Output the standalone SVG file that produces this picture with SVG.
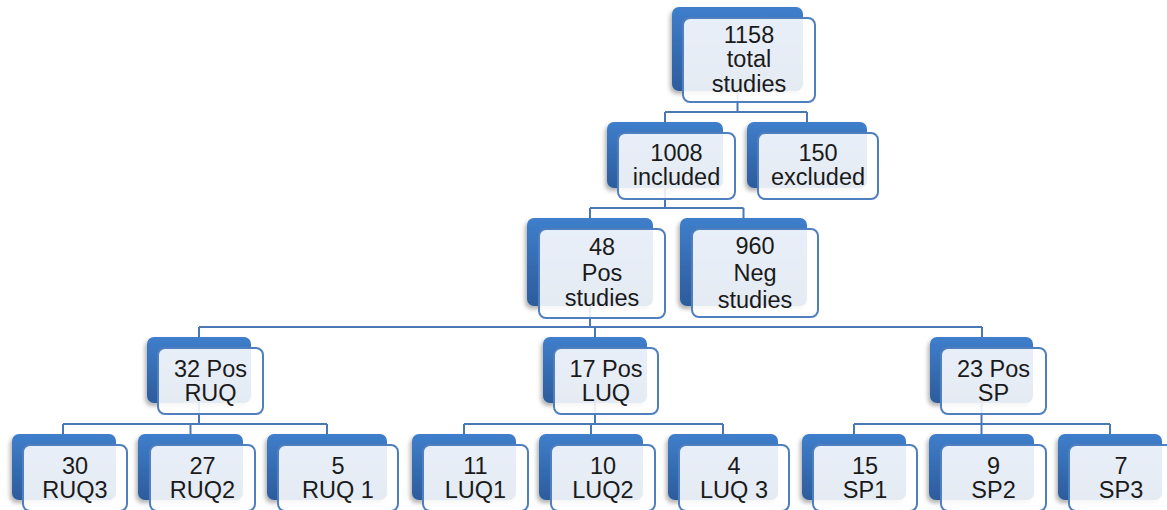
<svg xmlns="http://www.w3.org/2000/svg" width="1167" height="510" viewBox="0 0 1167 510">
<defs>
<linearGradient id="blueGrad" x1="0" y1="0" x2="0" y2="1">
<stop offset="0" stop-color="#3f7ecb"/>
<stop offset="1" stop-color="#2d5c9c"/>
</linearGradient>
<filter id="shadow" x="-20%" y="-20%" width="140%" height="150%">
<feDropShadow dx="-2" dy="3" stdDeviation="2" flood-color="#000" flood-opacity="0.3"/>
</filter>
<style>
.back{fill:url(#blueGrad);filter:url(#shadow);}
.front{fill:#ffffff;fill-opacity:0.88;stroke:#4f7fbe;stroke-width:2;}
.conn{fill:none;stroke:#4a78b6;stroke-width:2;}
text{font-family:"Liberation Sans",Arial,sans-serif;font-size:23.5px;fill:#1a1a1a;text-anchor:middle;}
</style>
</defs>
<rect width="1167" height="510" fill="#ffffff"/>
<g id="connectors">
<path class="conn" d="M737.5,91 V112 M665,112 H807 M665,112 V122 M807,112 V122"/>
<path class="conn" d="M665,187 V208 M590,208 H743.5 M590,208 V218 M743.5,208 V218"/>
<path class="conn" d="M590,306 V327 M199,327 H982 M199,327 V337 M595,327 V337 M982,327 V337"/>
<path class="conn" d="M199,403 V424 M63,424 H327 M63,424 V434 M190.5,424 V434 M327,424 V434"/>
<path class="conn" d="M595,403 V424 M464,424 H723 M464,424 V434 M591,424 V434 M723,424 V434"/>
<path class="conn" d="M981.5,403 V424 M854,424 H1110 M854,424 V434 M981.5,424 V434 M1110,424 V434"/>
</g>
<g id="n1158">
<rect class="back" x="672" y="7" width="131" height="84" rx="7"/>
<rect class="front" x="683" y="18" width="132" height="84" rx="7"/>
<text x="749" y="43">1158</text><text x="749" y="67">total</text><text x="749" y="92">studies</text>
</g>
<g id="n1008">
<rect class="back" x="607" y="122" width="116" height="66" rx="7"/>
<rect class="front" x="618" y="133" width="117" height="66" rx="7"/>
<text x="676.5" y="161">1008</text><text x="676.5" y="185">included</text>
</g>
<g id="n150">
<rect class="back" x="747" y="122" width="120" height="66" rx="7"/>
<rect class="front" x="758" y="133" width="120" height="66" rx="7"/>
<text x="818" y="161">150</text><text x="818" y="185">excluded</text>
</g>
<g id="n48">
<rect class="back" x="527" y="218" width="126" height="88" rx="7"/>
<rect class="front" x="539" y="229" width="126" height="89" rx="7"/>
<text x="602" y="255">48</text><text x="602" y="281">Pos</text><text x="602" y="306">studies</text>
</g>
<g id="n960">
<rect class="back" x="680" y="218" width="127" height="88" rx="7"/>
<rect class="front" x="692" y="229" width="126" height="88" rx="7"/>
<text x="755" y="254">960</text><text x="755" y="281">Neg</text><text x="755" y="308">studies</text>
</g>
<g id="nRUQ">
<rect class="back" x="147" y="337" width="104" height="66" rx="7"/>
<rect class="front" x="158" y="348" width="105" height="66" rx="7"/>
<text x="210.5" y="377">32 Pos</text><text x="210.5" y="401">RUQ</text>
</g>
<g id="nLUQ">
<rect class="back" x="543" y="337" width="104" height="66" rx="7"/>
<rect class="front" x="554" y="348" width="104" height="66" rx="7"/>
<text x="606" y="377">17 Pos</text><text x="606" y="401">LUQ</text>
</g>
<g id="nSP">
<rect class="back" x="930" y="337" width="103" height="66" rx="7"/>
<rect class="front" x="941" y="348" width="105" height="66" rx="7"/>
<text x="993.5" y="377">23 Pos</text><text x="993.5" y="401">SP</text>
</g>
<g id="nRUQ3">
<rect class="back" x="12" y="434" width="104" height="66" rx="7"/>
<rect class="front" x="23" y="445" width="104" height="66" rx="7"/>
<text x="75" y="474">30</text><text x="75" y="498">RUQ3</text>
</g>
<g id="nRUQ2">
<rect class="back" x="138" y="434" width="105" height="66" rx="7"/>
<rect class="front" x="150" y="445" width="105" height="66" rx="7"/>
<text x="202.5" y="474">27</text><text x="202.5" y="498">RUQ2</text>
</g>
<g id="nRUQ1">
<rect class="back" x="267" y="434" width="120" height="66" rx="7"/>
<rect class="front" x="278" y="445" width="120" height="66" rx="7"/>
<text x="338" y="474">5</text><text x="338" y="498">RUQ 1</text>
</g>
<g id="nLUQ1">
<rect class="back" x="412" y="434" width="104" height="66" rx="7"/>
<rect class="front" x="423" y="445" width="105" height="66" rx="7"/>
<text x="475.5" y="474">11</text><text x="475.5" y="498">LUQ1</text>
</g>
<g id="nLUQ2">
<rect class="back" x="539" y="434" width="104" height="66" rx="7"/>
<rect class="front" x="551" y="445" width="104" height="66" rx="7"/>
<text x="603" y="474">10</text><text x="603" y="498">LUQ2</text>
</g>
<g id="nLUQ3">
<rect class="back" x="668" y="434" width="110" height="66" rx="7"/>
<rect class="front" x="679" y="445" width="110" height="66" rx="7"/>
<text x="734" y="474">4</text><text x="734" y="498">LUQ 3</text>
</g>
<g id="nSP1">
<rect class="back" x="802" y="434" width="104" height="66" rx="7"/>
<rect class="front" x="813" y="445" width="104" height="66" rx="7"/>
<text x="865" y="474">15</text><text x="865" y="498">SP1</text>
</g>
<g id="nSP2">
<rect class="back" x="929" y="434" width="105" height="66" rx="7"/>
<rect class="front" x="941" y="445" width="105" height="66" rx="7"/>
<text x="993.5" y="474">9</text><text x="993.5" y="498">SP2</text>
</g>
<g id="nSP3">
<rect class="back" x="1058" y="434" width="104" height="66" rx="7"/>
<rect class="front" x="1069" y="445" width="104" height="66" rx="7"/>
<text x="1121" y="474">7</text><text x="1121" y="498">SP3</text>
</g>
</svg>
